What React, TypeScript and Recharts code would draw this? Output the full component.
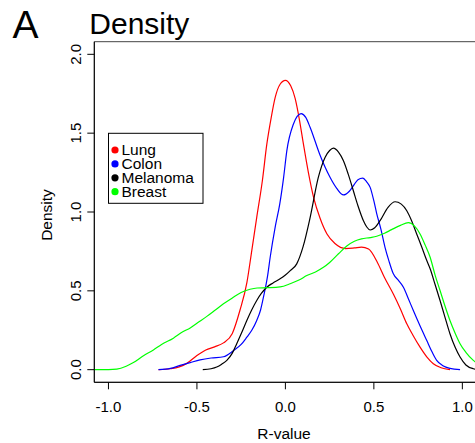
import React from 'react';
import { LineChart, Line, XAxis, YAxis, ReferenceArea } from 'recharts';

const xTicks = [-1, -0.5, 0, 0.5, 1];
const yTicks = [0, 0.5, 1, 1.5, 2];
const seriesNames = ['Lung', 'Colon', 'Melanoma', 'Breast'];
const seriesColors = ['#ff0000', '#0000ff', '#000000', '#00ff00'];

const lungR = [-0.717, -0.65, -0.6, -0.557, -0.5, -0.45, -0.4, -0.35, -0.3, -0.256, -0.218, -0.19, -0.162, -0.13, -0.105, -0.08, -0.058, -0.03, 0.0, 0.03, 0.055, 0.08, 0.102, 0.13, 0.16, 0.196, 0.235, 0.28, 0.34, 0.39, 0.43, 0.47, 0.52, 0.56, 0.61, 0.65, 0.686, 0.72, 0.761, 0.8, 0.836, 0.88, 0.93];
const lungDensity = [0, 0.006, 0.018, 0.04, 0.09, 0.125, 0.145, 0.17, 0.23, 0.38, 0.55, 0.755, 0.966, 1.2, 1.43, 1.6, 1.725, 1.81, 1.835, 1.8, 1.72, 1.58, 1.43, 1.25, 1.09, 0.96, 0.86, 0.8, 0.768, 0.772, 0.777, 0.765, 0.68, 0.585, 0.48, 0.385, 0.291, 0.22, 0.143, 0.08, 0.038, 0.012, 0];

const colonR = [-0.717, -0.65, -0.595, -0.538, -0.482, -0.42, -0.35, -0.294, -0.25, -0.218, -0.19, -0.162, -0.14, -0.124, -0.1, -0.086, -0.058, -0.032, -0.01, 0.008, 0.045, 0.089, 0.115, 0.14, 0.196, 0.25, 0.29, 0.328, 0.36, 0.384, 0.41, 0.437, 0.46, 0.479, 0.5, 0.516, 0.54, 0.563, 0.585, 0.61, 0.64, 0.667, 0.695, 0.723, 0.76, 0.799, 0.83, 0.855, 0.89, 0.93, 0.987];
const colonDensity = [0, 0.008, 0.027, 0.045, 0.062, 0.074, 0.082, 0.12, 0.16, 0.206, 0.25, 0.312, 0.38, 0.46, 0.6, 0.713, 0.903, 1.05, 1.22, 1.388, 1.557, 1.624, 1.6, 1.536, 1.36, 1.225, 1.15, 1.108, 1.13, 1.166, 1.205, 1.215, 1.19, 1.156, 1.07, 0.99, 0.89, 0.776, 0.69, 0.608, 0.565, 0.523, 0.45, 0.375, 0.28, 0.185, 0.11, 0.059, 0.025, 0.008, 0];

const melanomaR = [-0.467, -0.42, -0.388, -0.36, -0.331, -0.3, -0.275, -0.245, -0.218, -0.19, -0.162, -0.135, -0.105, -0.07, -0.03, 0.0, 0.027, 0.064, 0.1, 0.14, 0.186, 0.224, 0.25, 0.271, 0.3, 0.328, 0.355, 0.384, 0.41, 0.441, 0.46, 0.479, 0.505, 0.535, 0.58, 0.62, 0.655, 0.686, 0.715, 0.742, 0.77, 0.799, 0.818, 0.846, 0.874, 0.9, 0.93, 0.96, 0.987, 1.02, 1.062, 1.1];
const melanomaDensity = [0, 0.006, 0.017, 0.035, 0.059, 0.105, 0.165, 0.24, 0.312, 0.38, 0.439, 0.485, 0.523, 0.55, 0.576, 0.6, 0.628, 0.671, 0.78, 0.966, 1.219, 1.346, 1.39, 1.405, 1.38, 1.325, 1.24, 1.135, 1.04, 0.945, 0.905, 0.886, 0.9, 0.945, 1.03, 1.065, 1.05, 1.008, 0.94, 0.861, 0.78, 0.692, 0.64, 0.54, 0.439, 0.34, 0.228, 0.14, 0.08, 0.03, 0.006, 0];

const breastR = [-1.2, -1.0, -0.953, -0.9, -0.859, -0.8, -0.746, -0.7, -0.633, -0.58, -0.538, -0.5, -0.444, -0.4, -0.35, -0.3, -0.25, -0.2, -0.16, -0.1, -0.03, 0.027, 0.08, 0.121, 0.17, 0.215, 0.25, 0.3, 0.347, 0.39, 0.43, 0.48, 0.516, 0.56, 0.6, 0.65, 0.695, 0.73, 0.761, 0.79, 0.818, 0.846, 0.874, 0.9, 0.93, 0.96, 0.987, 1.02, 1.062, 1.1, 1.15];
const breastDensity = [0, 0.001, 0.004, 0.022, 0.045, 0.09, 0.125, 0.16, 0.2, 0.24, 0.265, 0.295, 0.338, 0.375, 0.418, 0.455, 0.49, 0.51, 0.518, 0.52, 0.525, 0.545, 0.57, 0.597, 0.62, 0.649, 0.68, 0.735, 0.785, 0.815, 0.83, 0.838, 0.846, 0.865, 0.888, 0.915, 0.932, 0.91, 0.861, 0.79, 0.713, 0.6, 0.502, 0.41, 0.312, 0.23, 0.165, 0.11, 0.059, 0.03, 0.01];

const zip = (xs: number[], ys: number[]) => xs.map((x, i) => ({ x, y: ys[i] }));

const series = [
  { name: seriesNames[0], color: seriesColors[0], data: zip(lungR, lungDensity) },
  { name: seriesNames[1], color: seriesColors[1], data: zip(colonR, colonDensity) },
  { name: seriesNames[2], color: seriesColors[2], data: zip(melanomaR, melanomaDensity) },
  { name: seriesNames[3], color: seriesColors[3], data: zip(breastR, breastDensity) },
];

const FONT = '"Liberation Sans", Arial, Helvetica, sans-serif';

const XTick = (props: any) => {
  const { x, y, payload } = props;
  return (
    <text x={x} y={y + 22.4} textAnchor="middle" fontSize={15} fontFamily={FONT} fill="#000">
      {Number(payload.value).toFixed(1)}
    </text>
  );
};

const YTick = (props: any) => {
  const { x, y, payload } = props;
  const bx = x - 6.3;
  return (
    <text x={bx} y={y} transform={`rotate(-90 ${bx} ${y})`} textAnchor="middle" fontSize={15} fontFamily={FONT} fill="#000">
      {Number(payload.value).toFixed(1)}
    </text>
  );
};

export default function App() {
  const legendTop = 133.3;
  return (
    <div style={{ position: 'absolute', left: 0, top: 0, width: 475, height: 443, overflow: 'hidden', background: '#fff' }}>
      <LineChart width={480} height={443} margin={{ top: 41.7, right: 3.5, left: 0, bottom: 0 }}>
        <XAxis
          type="number"
          dataKey="x"
          domain={[-1.08, 1.08]}
          ticks={xTicks}
          allowDataOverflow
          interval={0}
          tick={<XTick />}
          tickSize={7}
          tickMargin={0}
          height={60.7}
          stroke="#000"
        />
        <YAxis
          type="number"
          dataKey="y"
          domain={[-0.08, 2.08]}
          ticks={yTicks}
          allowDataOverflow
          interval={0}
          width={94.3}
          tick={<YTick />}
          tickSize={7}
          tickMargin={0}
          stroke="#000"
        />
        <ReferenceArea x1={-1.08} x2={1.08} y1={-0.08} y2={2.08} fill="none" fillOpacity={0} stroke="#444" strokeWidth={1} ifOverflow="visible" />
        {series.map((s) => (
          <Line
            key={s.name}
            name={s.name}
            data={s.data}
            dataKey="y"
            type="monotone"
            stroke={s.color}
            strokeWidth={1.2}
            dot={false}
            activeDot={false}
            isAnimationActive={false}
          />
        ))}
      </LineChart>
      <svg width={475} height={443} style={{ position: 'absolute', left: 0, top: 0, pointerEvents: 'none' }}>
        <text x={12.5} y={37.7} fontSize={39} fontFamily={FONT} fill="#000">A</text>
        <text x={89.3} y={34} fontSize={30} fontFamily={FONT} fill="#000">Density</text>
        <text x={284} y={439} textAnchor="middle" fontSize={15.5} fontFamily={FONT} fill="#000">R-value</text>
        <text x={51.5} y={215} transform="rotate(-90 51.5 215)" textAnchor="middle" fontSize={15.5} fontFamily={FONT} fill="#000">Density</text>
        <rect x={108.5} y={legendTop} width={94.5} height={70} fill="none" stroke="#000" strokeWidth={1} />
        {series.map((s, i) => (
          <g key={s.name}>
            <circle cx={115} cy={150 + i * 13.9} r={3.6} fill={s.color} />
            <text x={121.5} y={155 + i * 13.9} fontSize={15.5} fontFamily={FONT} fill="#000">{s.name}</text>
          </g>
        ))}
      </svg>
    </div>
  );
}
